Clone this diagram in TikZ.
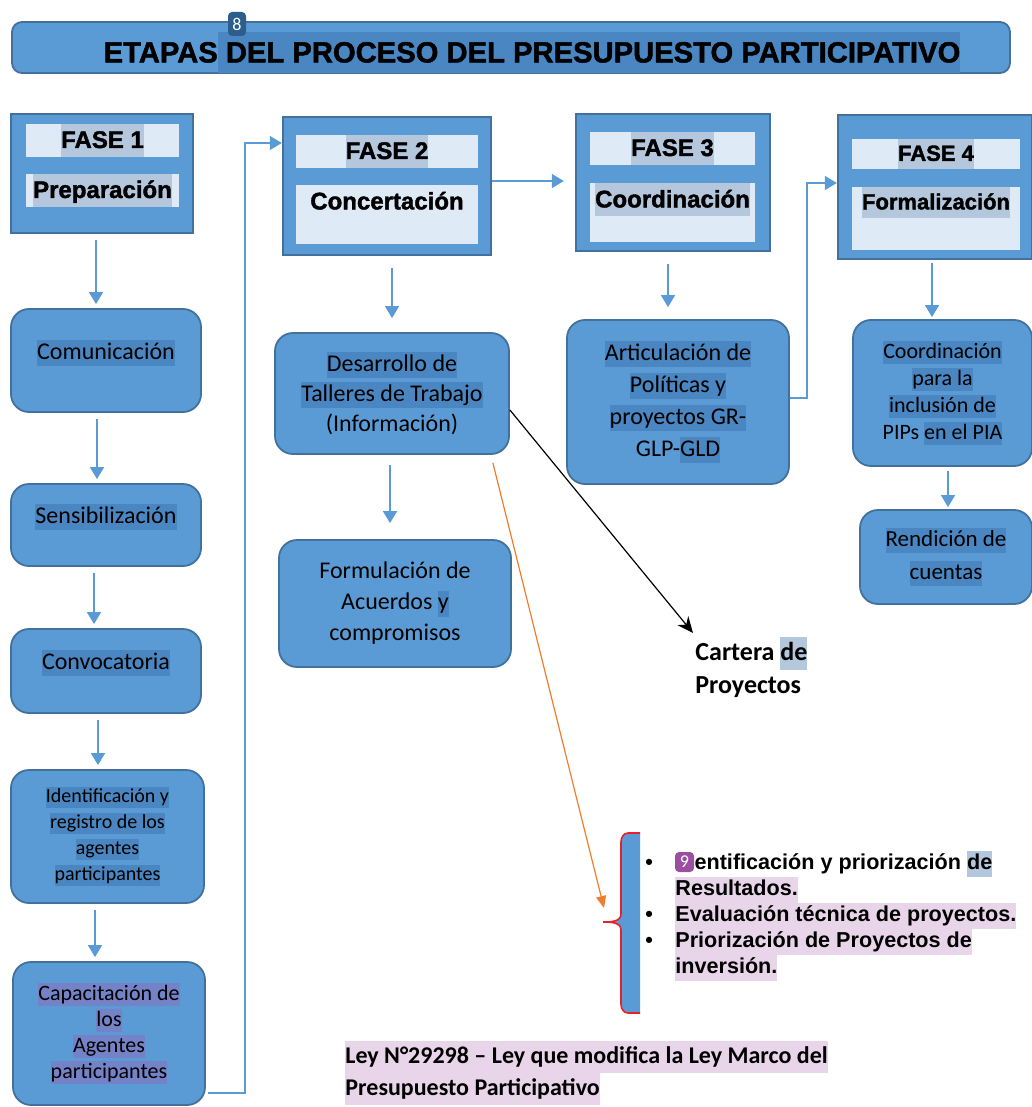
\documentclass[tikz,border=0pt]{standalone}
\usepackage{fontspec}
\setmainfont{Carlito}
\newfontfamily\arial{Liberation Sans}
\newfontfamily\arialnegro[BoldFeatures={FakeBold=1.6}]{Liberation Sans}
\usetikzlibrary{arrows.meta}

\definecolor{azul}{HTML}{5B9BD5}
\definecolor{borde}{HTML}{41719C}
\definecolor{claro}{HTML}{DEEBF7}
\definecolor{gris}{HTML}{B4C7DC}
\definecolor{oscuro}{HTML}{4A86C1}
\definecolor{malva}{HTML}{7482C8}
\definecolor{rosa}{HTML}{E9D5EA}
\definecolor{naranja}{HTML}{ED7D31}
\definecolor{rojo}{HTML}{E8202A}
\definecolor{nota}{HTML}{2C5D8C}
\definecolor{morado}{HTML}{9A4FA0}

% resaltado de texto (como en el pdf)
\newcommand{\resalta}[2]{{\setlength{\fboxsep}{0pt}\colorbox{#1}{\rule[-0.28em]{0pt}{1.08em}#2}}}
\newcommand{\marca}[2]{{\setlength{\fboxsep}{0pt}\colorbox{#1}{\rule[-0.375em]{0pt}{1.375em}#2}}}
\newcommand{\marcar}[2]{{\setlength{\fboxsep}{0pt}\colorbox{#1}{\strut#2}}}

\tikzset{
  flecha/.style={draw=azul, line width=0.8pt, -{Triangle[width=7pt,length=6pt]},
    shorten <=3pt, shorten >=2pt},
  caja/.style={draw=borde, fill=azul, line width=0.9pt, rounded corners=9pt,
    align=center, inner sep=2pt},
  fase/.style={draw=borde, fill=azul, line width=1.2pt, inner sep=0pt},
  etiqueta/.style={fill=claro, inner sep=0pt, font=\arialnegro\bfseries\fontsize{12}{14}\selectfont},
  nota/.style={rounded corners=2pt, text=white, inner sep=0pt, font=\fontsize{9}{10}\selectfont},
}

\begin{document}
\begin{tikzpicture}[x=0.5pt, y=-0.5pt]
\useasboundingbox (0,0) rectangle (1032,1107);

% titulo
\node[draw=borde, fill=azul, line width=0.9pt, rounded corners=5pt,
  minimum width=499pt, minimum height=25.5pt] (titulo) at (511,47.5) {};
\node[inner sep=0pt, font=\arialnegro\bfseries\fontsize{14.6}{16}\selectfont] (titulotexto) at (532,52.5)
  {ETAPAS{\setlength{\fboxsep}{0pt}\colorbox{oscuro}{\rule[-0.36em]{0pt}{1.4em} DEL PROCESO DEL PRESUPUESTO PARTICIPATIVO}}};
\node[nota, fill=nota, minimum width=9pt, minimum height=12pt] (nota8) at (237,24) {8};

% fases
\node[fase, minimum width=91pt, minimum height=59.5pt] (fase1) at (102,173.5) {};
\node[etiqueta, minimum width=76.5pt, minimum height=16.5pt] (f1titulo) at (102.5,140.5) {\marca{gris}{FASE 1}};
\node[etiqueta, minimum width=76.5pt, minimum height=16.5pt] (f1nombre) at (102.5,190.5) {\marca{gris}{Preparación}};

\node[fase, minimum width=104pt, minimum height=69pt] (fase2) at (387,186) {};
\node[etiqueta, minimum width=91pt, minimum height=16.5pt] (f2titulo) at (387,151.5) {\marca{gris}{FASE 2}};
\node[etiqueta, minimum width=91pt, text depth=17.5pt, anchor=north] (f2nombre) at (387,185) {\marca{claro}{Concertación}};

\node[fase, minimum width=97pt, minimum height=68.5pt] (fase3) at (673,182.5) {};
\node[etiqueta, minimum width=82.5pt, minimum height=16.5pt] (f3titulo) at (672.5,148.5) {\marca{gris}{FASE 3}};
\node[etiqueta, minimum width=82.5pt, text depth=17.5pt, anchor=north] (f3nombre) at (672.5,183) {\marca{gris}{Coordinación}};

\node[fase, minimum width=97pt, minimum height=72pt] (fase4) at (935,187) {};
\node[etiqueta, font=\arialnegro\bfseries\fontsize{11}{13}\selectfont, minimum width=84pt, minimum height=15pt] (f4titulo) at (936,154) {\marca{gris}{FASE 4}};
\node[etiqueta, font=\arialnegro\bfseries\fontsize{11}{13}\selectfont, minimum width=84pt, text depth=20.5pt, anchor=north] (f4nombre) at (936,187) {\marca{gris}{Formalización}};

% fase 1
\node[caja, minimum width=95pt, minimum height=51.5pt, text depth=11pt, font=\fontsize{12}{15}\selectfont] (comu) at (106,360.5) {\resalta{oscuro}{Comunicación}};
\node[caja, minimum width=95pt, minimum height=41pt, text depth=11pt, font=\fontsize{12}{15}\selectfont] (sens) at (106,525) {\resalta{oscuro}{Sensibilización}};
\node[caja, minimum width=95pt, minimum height=42pt, text depth=11pt, font=\fontsize{12}{15}\selectfont] (conv) at (106,671) {\resalta{oscuro}{Convocatoria}};
\node[caja, minimum width=96.5pt, minimum height=66.5pt, font=\fontsize{10}{13}\selectfont] (ident) at (107.5,836.5)
  {\resalta{oscuro}{Identificación y}\\ \resalta{oscuro}{registro de los}\\ \resalta{oscuro}{agentes}\\ \resalta{oscuro}{participantes}};
\node[caja, minimum width=96pt, minimum height=71.5pt, font=\fontsize{11}{13}\selectfont] (capac) at (109,1033.5)
  {\resalta{malva}{Capacitación de}\\ \resalta{malva}{los}\\ \resalta{malva}{Agentes}\\ \resalta{malva}{participantes}};

% fase 2
\node[caja, minimum width=117pt, minimum height=60.5pt, font=\fontsize{12}{15}\selectfont] (desa) at (392,393.5)
  {\resalta{oscuro}{Desarrollo de}\\ \resalta{oscuro}{Talleres de Trabajo}\\ (Información)};
\node[caja, minimum width=116pt, minimum height=63.5pt, font=\fontsize{12}{15.5}\selectfont] (form) at (395,603.5)
  {Formulación de\\ Acuerdos \resalta{oscuro}{y}\\ compromisos};

% fase 3
\node[caja, minimum width=111pt, minimum height=82pt, font=\fontsize{12}{16}\selectfont] (arti) at (678,402)
  {\resalta{oscuro}{Articulación de}\\ \resalta{oscuro}{Políticas y}\\ \resalta{oscuro}{proyectos GR-}\\ GLP-\resalta{oscuro}{GLD}};

% fase 4
\node[caja, minimum width=89.5pt, minimum height=73pt, font=\fontsize{11}{13.5}\selectfont] (coor) at (942.5,393)
  {\resalta{oscuro}{Coordinación}\\ \resalta{oscuro}{para la}\\ \resalta{oscuro}{inclusión de}\\ PIPs \resalta{oscuro}{en el PIA}};
\node[caja, minimum width=86pt, minimum height=47pt, font=\fontsize{11.5}{16.5}\selectfont] (rend) at (946,557)
  {\resalta{oscuro}{Rendición de}\\ \resalta{oscuro}{cuentas}};

% textos sueltos
\node[anchor=north west, inner sep=0pt, align=left, font=\bfseries\fontsize{13}{16.5}\selectfont] (cartera) at (695,637)
  {Cartera \marcar{gris}{de}\\ Proyectos};
\node[anchor=north west, inner sep=0pt, font=\arial\bfseries\fontsize{10.8}{13}\selectfont] (lista) at (645,851)
  {\begin{tabular}{@{}p{15pt}@{}l@{}}
  • & Identificación y priorización \marcar{gris}{de}\\
    & \marcar{rosa}{Resultados.}\\
  • & \marcar{rosa}{Evaluación técnica de proyectos.}\\
  • & \marcar{rosa}{Priorización de Proyectos de}\\
    & \marcar{rosa}{inversión.}
  \end{tabular}};
\node[nota, fill=morado, minimum width=9.5pt, minimum height=10pt] (nota9) at (684.5,862) {9};
\node[anchor=north west, inner sep=0pt, align=left, font=\bfseries\fontsize{12}{16}\selectfont] (ley) at (345,1041)
  {\marcar{rosa}{Ley N°29298 – Ley que modifica la Ley Marco del}\\ \marcar{rosa}{Presupuesto Participativo}};

% llave
\fill[azul] (640,833) -- (628,833) to[out=180,in=90] (621,842) -- (621,914)
  to[out=-90,in=0] (603,922) to[out=0,in=90] (621,930) -- (621,1004)
  to[out=-90,in=180] (628,1013) -- (640,1013) -- cycle;
\draw[rojo, line width=0.8pt] (640,833) -- (628,833) to[out=180,in=90] (621,842) -- (621,914)
  to[out=-90,in=0] (603,922) to[out=0,in=90] (621,930) -- (621,1004)
  to[out=-90,in=180] (628,1013) -- (640,1013);
\coordinate (destino) at (604,908);

% conexiones
\draw[flecha] ([xshift=-3pt]fase1.south) -- ([xshift=-3pt]fase1.south |- comu.north);
\draw[flecha] ([xshift=-4.5pt]comu.south) -- ([xshift=-4.5pt]comu.south |- sens.north);
\draw[flecha] ([xshift=-6pt]sens.south) -- ([xshift=-6pt]sens.south |- conv.north);
\draw[flecha] ([xshift=-4pt]conv.south) -- ([xshift=-4pt]conv.south |- ident.north);
\draw[flecha] ([xshift=-6.25pt]ident.south) -- ([xshift=-6.25pt]ident.south |- capac.north);
\draw[flecha, shorten <=1pt, shorten >=0pt] ([yshift=-29.75pt]capac.east) -| ++(19.5pt,0)
  |- ([yshift=21.5pt]fase2.west);
\draw[flecha, shorten <=6pt, shorten >=7pt] ([xshift=2.5pt]fase2.south) -- ([xshift=2.5pt]fase2.south |- desa.north);
\draw[flecha, shorten <=5pt, shorten >=8pt] ([xshift=-1pt]desa.south) -- ([xshift=-1pt]desa.south |- form.north);
\draw[flecha, shorten <=0pt, shorten >=5.5pt] ([yshift=2.5pt]fase2.east) -- ([yshift=2.5pt]fase2.east -| fase3.west);
\draw[flecha, shorten <=6pt, shorten >=6pt] ([xshift=-2.5pt]fase3.south) -- ([xshift=-2.5pt]fase3.south |- arti.north);
\draw[flecha, shorten <=0pt, shorten >=0pt] ([yshift=2pt]arti.east) -- ++(8.5pt,0) |- ([yshift=2pt]fase4.west);
\draw[flecha, shorten <=1.5pt, shorten >=1pt] ([xshift=-1.5pt]fase4.south) -- ([xshift=-1.5pt]fase4.south |- coor.north);
\draw[flecha, shorten <=2pt, shorten >=1pt] ([xshift=2.75pt]coor.south) -- ([xshift=2.75pt]coor.south |- rend.north);
\draw[black, line width=0.6pt, -{Stealth[length=8pt,width=7pt]}] ([yshift=-8.25pt]desa.east) -- ([shift={(-1pt,2pt)}]cartera.north west);
\draw[naranja, line width=0.6pt, -{Triangle[length=6pt,width=5pt]}] ([shift={(-8.5pt,-4pt)}]desa.south east) -- (destino);
\end{tikzpicture}
\end{document}
